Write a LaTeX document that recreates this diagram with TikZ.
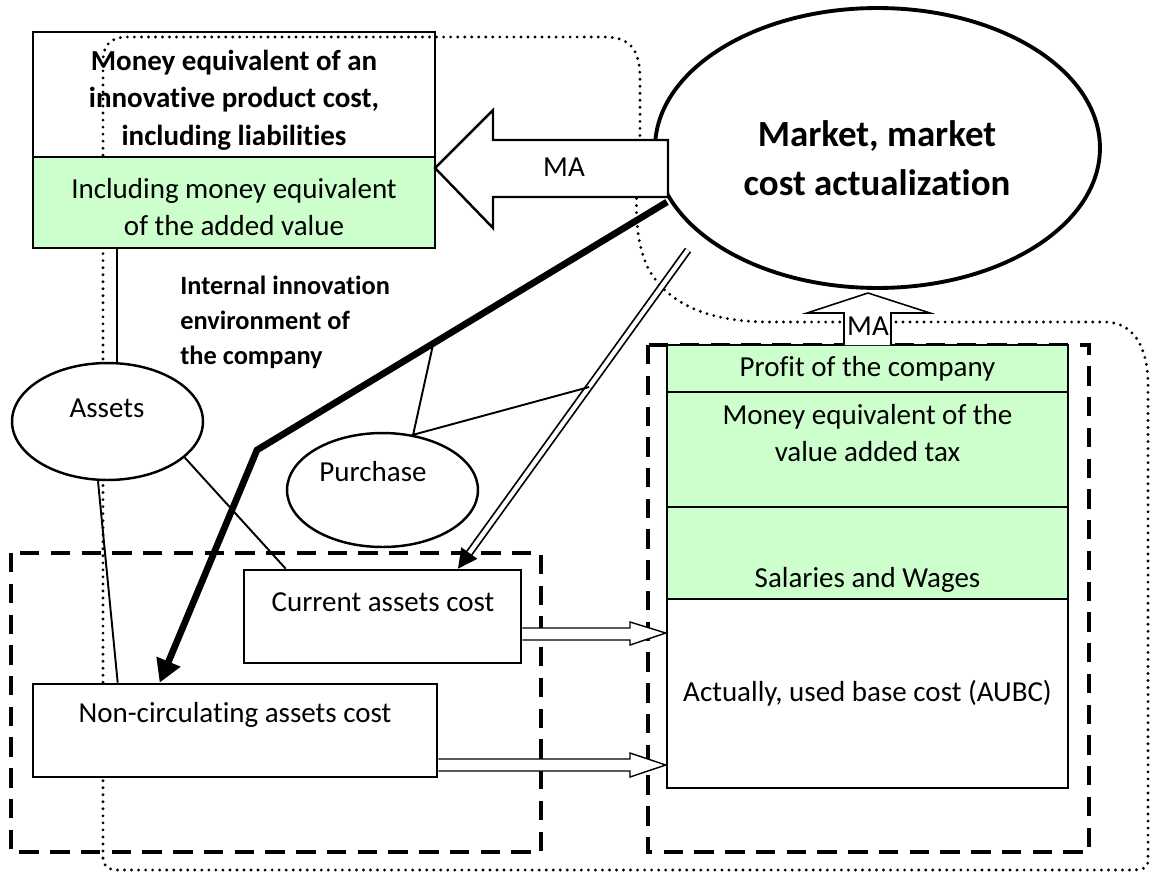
\documentclass[tikz,border=0pt]{standalone}
\usepackage{fontspec}
\setmainfont{Carlito}[RawFeature={-liga;-clig;-calt;-dlig}]
\usetikzlibrary{shapes.geometric,arrows.meta,calc}

\definecolor{boxgreen}{HTML}{CCFFCC}

\tikzset{
  txt/.style={font=\fontsize{16.5}{21.3}\selectfont, align=center, inner sep=0pt},
  boldtxt/.style={txt, font=\fontsize{16.5}{21.3}\selectfont\bfseries},
  bigtxt/.style={txt, font=\fontsize{21}{27.9}\selectfont\bfseries},
  smalltxt/.style={txt, font=\fontsize{15}{19.9}\selectfont\bfseries, align=left},
  box/.style={draw, line width=1.5pt, txt},
  greenbox/.style={box, fill=boxgreen},
  oval/.style={draw, ellipse, line width=1.4pt, fill=white, inner sep=0pt},
  thinline/.style={line width=1.1pt},
  thickarrow/.style={line width=3.8pt, -{Triangle[length=13pt,width=14pt]}},
  dblarrow/.style={double, double distance=2.4pt, line width=1pt, -{Triangle[length=11pt,width=11pt]}},
  hollowarrow/.style={draw, fill=white, line width=0.8pt},
  blockarrow/.style={draw, fill=white, line width=1.4pt, line join=miter},
  dashedframe/.style={line width=2.8pt, dash pattern=on 11pt off 6.5pt},
  envline/.style={line width=1.8pt, dash pattern=on 0pt off 4pt, line cap=round}
}

\begin{document}
\begin{tikzpicture}[x=0.02cm, y=-0.02cm]
  \useasboundingbox (0,0) rectangle (1158,872);

  % Dotted border of the internal environment
  \draw[envline] (103,858) -- (103,62) .. controls (103,45) and (110,37) .. (128,37)
    -- (605,37) .. controls (630,37) and (640,50) .. (640,78) -- (640,130)
    .. controls (640,175) and (628,225) .. (648,268)
    .. controls (668,305) and (710,322) .. (770,322) -- (1105,322)
    .. controls (1132,322) and (1148,345) .. (1148,385) -- (1148,862)
    .. controls (1148,868) and (1142,870) .. (1130,870) -- (118,870)
    .. controls (108,870) and (103,866) .. (103,858);

  % Dashed groups
  \draw[dashedframe] (11,553) rectangle (541,852);
  \draw[dashedframe] (648,345) rectangle (1089,852);

  % Product cost box
  \node (product) at (234,94.5) [box, minimum width=8.04cm, minimum height=2.5cm] {};
  \node (producttxt) at (234,100) [boldtxt] {Money equivalent of an\\innovative product cost,\\including liabilities};
  \node (addedvalue) at (234,202.5) [greenbox, minimum width=8.04cm, minimum height=1.82cm] {};
  \node (addedtxt) at (234,207) [txt] {Including money equivalent\\of the added value};

  % Market
  \node (market) at (877.5,148) [oval, line width=2.2pt, minimum width=8.9cm, minimum height=5.6cm] {};
  \node (markettxt) at (877,158) [bigtxt] {Market, market\\cost actualization};

  % Assets and purchase
  \node (assets) at (107.5,421.5) [oval, minimum width=3.82cm, minimum height=2.34cm] {};
  \node (assetstxt) at (107,408) [txt] {Assets};
  \node (internal) at (180,322) [smalltxt, anchor=west] {Internal innovation\\environment of\\the company};
  \node (purchase) at (382.5,490) [oval, minimum width=3.82cm, minimum height=2.28cm] {};
  \node (purchasetxt) at (373,472) [txt] {Purchase};

  % Asset costs
  \node (current) at (382.5,616.5) [box, fill=white, minimum width=5.54cm, minimum height=1.86cm] {};
  \node (currenttxt) at (383,602) [txt] {Current assets cost};
  \node (noncirc) at (235,730.5) [box, fill=white, minimum width=8.08cm, minimum height=1.86cm] {};
  \node (noncirctxt) at (235,715) [txt] {Non-circulating assets cost};

  % Cost structure
  \node (profit) at (867.5,368.5) [greenbox, minimum width=8.02cm, minimum height=0.94cm] {Profit of the company};
  \node (vat) at (867.5,449.5) [greenbox, minimum width=8.02cm, minimum height=2.3cm] {};
  \node (vattxt) at (867.5,433) [txt] {Money equivalent of the\\value added tax};
  \node (salaries) at (867.5,553) [greenbox, minimum width=8.02cm, minimum height=1.84cm] {};
  \node (salariestxt) at (867.5,580) [txt] {Salaries and Wages};
  \node (aubc) at (867.5,693.5) [box, fill=white, minimum width=8.02cm, minimum height=3.78cm] {Actually, used base cost (AUBC)};

  % Connectors
  \coordinate (thickstart) at (667,202);
  \coordinate (bend) at (257,450);
  \coordinate (dblstart) at (688,250);
  \coordinate (dblend) at ($(current.north)+(75.5,0)$);

  \draw[thinline] ([xshift=0.19cm]assets.north) -- ([xshift=0.19cm]assets.north |- addedvalue.south);
  \draw[thinline] ([xshift=-0.19cm]assets.south) -- ([xshift=1.72cm]noncirc.north west);
  \draw[thinline] (assets.-25) -- ([xshift=0.86cm]current.north west);
  \draw[thickarrow] (thickstart) -- (bend) -- ([xshift=2.56cm]noncirc.north west);
  \draw[dblarrow] (dblstart) -- (dblend);
  \draw[thinline] ($(bend)!0.43!(thickstart)$) -- (purchase.61) -- ($(dblstart)!0.43!(dblend)$);

  \draw[hollowarrow] (current.east |- 0,628) -- (630,628) -- (630,622) -- (aubc.west |- 0,633)
    -- (630,645) -- (630,640) -- (current.east |- 0,640);
  \draw[hollowarrow] (noncirc.east |- 0,759) -- (630,759) -- (630,753) -- (aubc.west |- 0,765)
    -- (630,777) -- (630,771) -- (noncirc.east |- 0,771);

  % Market actualization arrows
  \draw[blockarrow] (435,168) -- (493,110) -- (493,140) -- (668,140) -- (668,197)
    -- (493,197) -- (493,228) -- cycle;
  \node (maleft) at (564,167) [txt] {MA};
  \draw[blockarrow, line width=0.9pt] (844,345) -- (844,313) -- (807,313) -- (868,293)
    -- (930,313) -- (891,313) -- (891,345);
  \node (maup) at (868,326) [txt] {MA};
\end{tikzpicture}
\end{document}
